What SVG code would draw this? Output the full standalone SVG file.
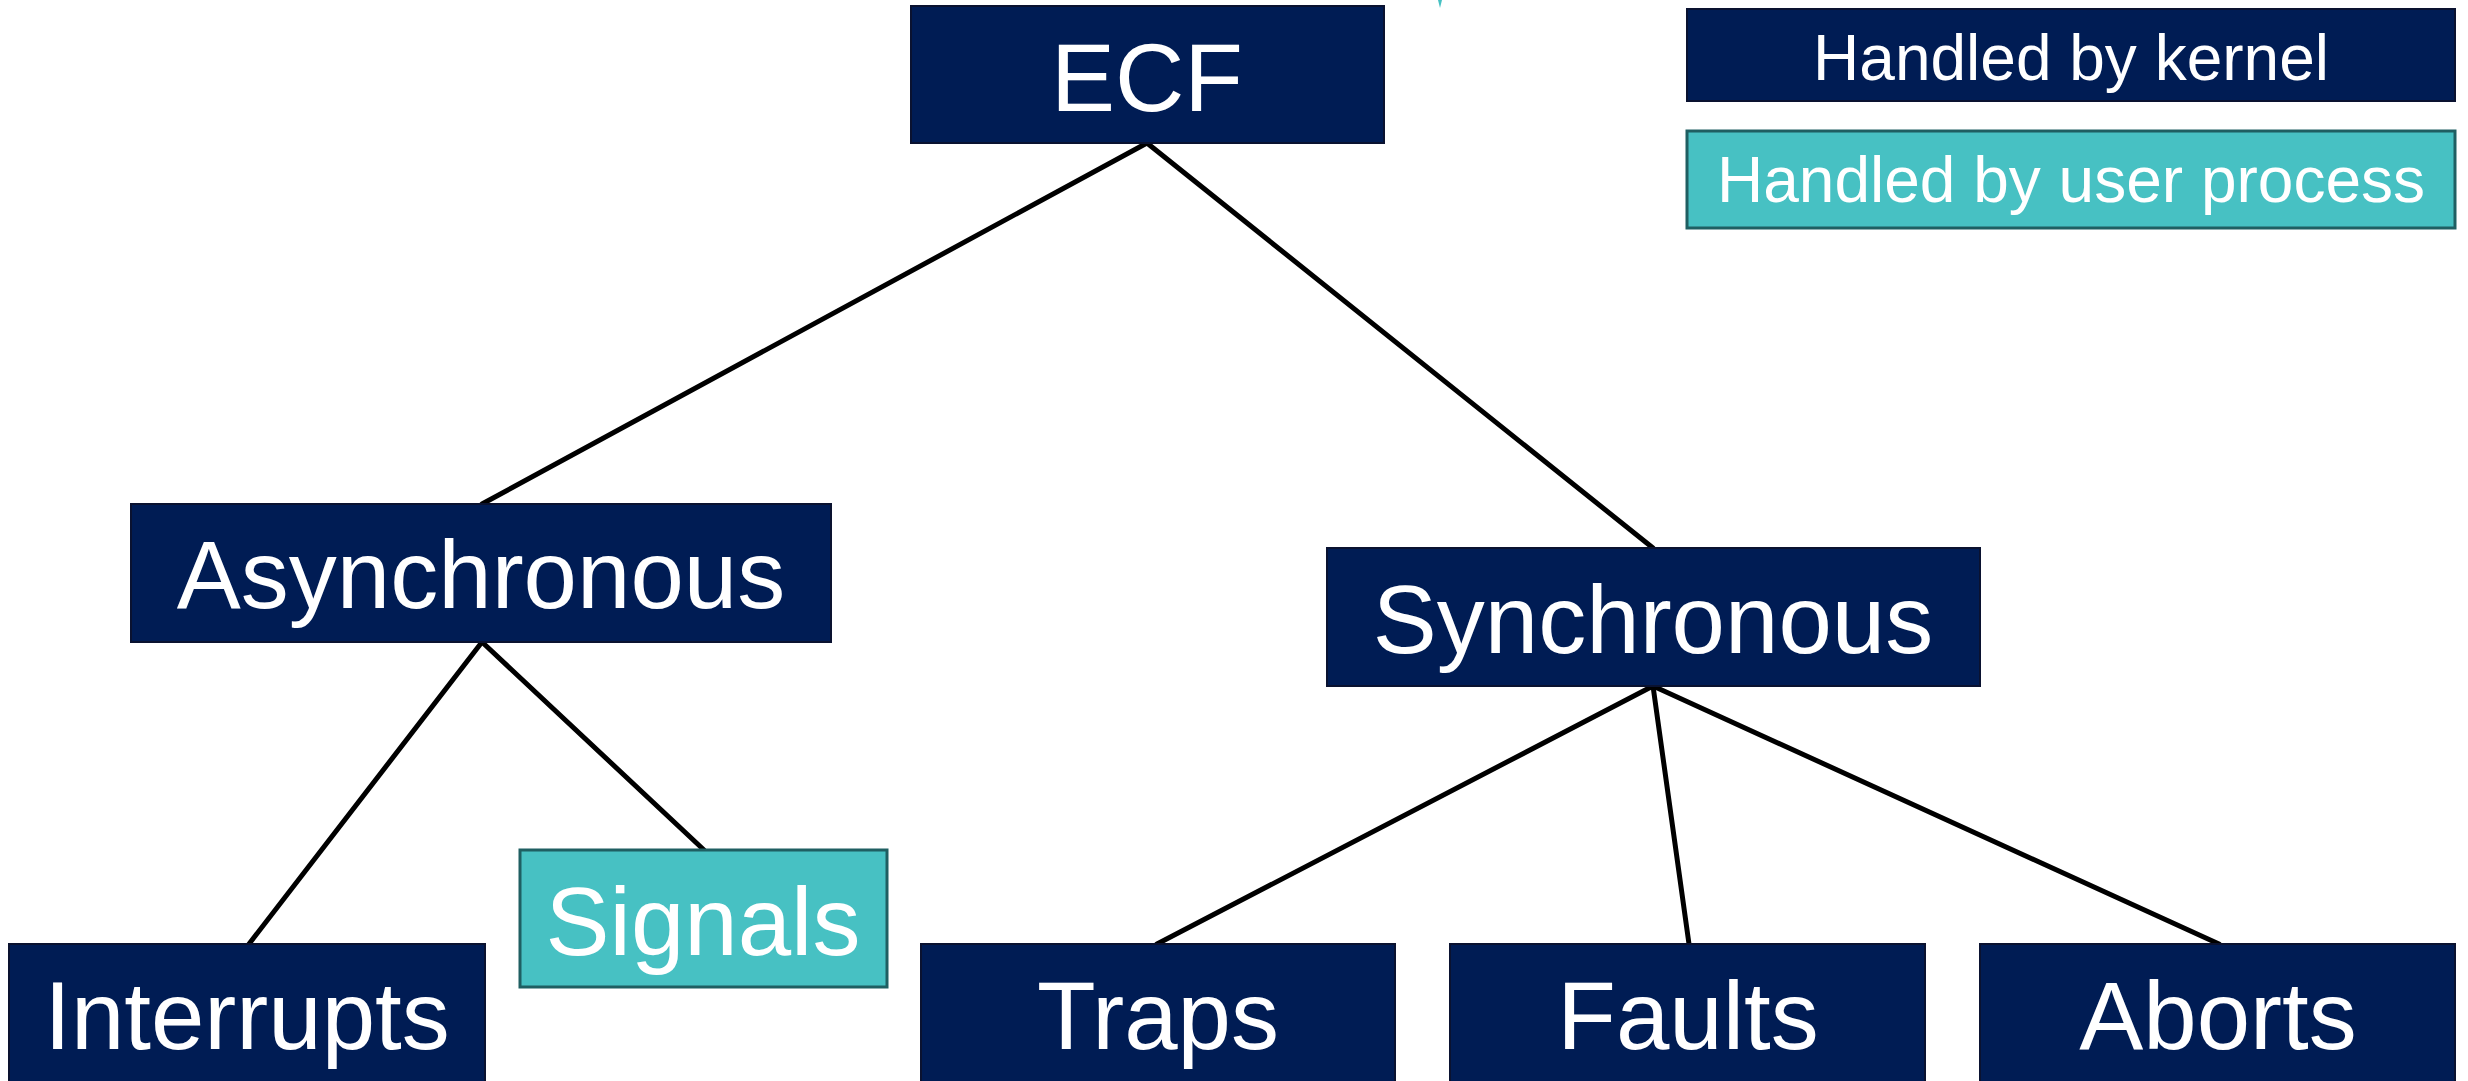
<svg xmlns="http://www.w3.org/2000/svg" width="2468" height="1081" viewBox="0 0 2468 1081">
  <style>
    .kernel { fill: #001c54; stroke: #0a1230; stroke-width: 2; }
    .user { fill: #47c1c3; stroke: #1f5f62; stroke-width: 3; }
    .label { font-family: "Liberation Sans", Arial, sans-serif; fill: #ffffff; text-anchor: middle; }
    .big { font-size: 96px; }
    .legend { font-size: 64px; }
    .edge { stroke: #000000; stroke-width: 5; fill: none; stroke-linecap: round; }
  </style>

  <rect width="2468" height="1081" fill="#ffffff"/>

  <!-- small teal sliver at the top edge -->
  <path d="M1438 0 L1442 0 L1440 8 Z" fill="#47c1c3"/>

  <!-- connectors -->
  <g id="connectors">
    <line class="edge" x1="1147" y1="143" x2="482" y2="504"/>
    <line class="edge" x1="1147" y1="143" x2="1653" y2="548"/>
    <line class="edge" x1="482" y1="642" x2="249" y2="944"/>
    <line class="edge" x1="482" y1="642" x2="704" y2="850"/>
    <line class="edge" x1="1653" y1="686" x2="1157" y2="944"/>
    <line class="edge" x1="1653" y1="686" x2="1689" y2="944"/>
    <line class="edge" x1="1653" y1="686" x2="2219" y2="944"/>
  </g>

  <!-- legend -->
  <g id="legend-kernel">
    <rect class="kernel" x="1687" y="9" width="768" height="92"/>
    <text class="label legend" x="2071" y="80">Handled by kernel</text>
  </g>
  <g id="legend-user">
    <rect class="user" x="1687" y="131" width="768" height="97"/>
    <text class="label legend" x="2071" y="202">Handled by user process</text>
  </g>

  <!-- tree nodes -->
  <g id="ecf">
    <rect class="kernel" x="911" y="6" width="473" height="137"/>
    <text class="label big" x="1147" y="111">ECF</text>
  </g>
  <g id="asynchronous">
    <rect class="kernel" x="131" y="504" width="700" height="138"/>
    <text class="label big" x="481" y="608">Asynchronous</text>
  </g>
  <g id="synchronous">
    <rect class="kernel" x="1327" y="548" width="653" height="138"/>
    <text class="label big" x="1653" y="653">Synchronous</text>
  </g>
  <g id="interrupts">
    <rect class="kernel" x="9" y="944" width="476" height="140"/>
    <text class="label big" x="247" y="1049">Interrupts</text>
  </g>
  <g id="signals">
    <rect class="user" x="520" y="850" width="367" height="137"/>
    <text class="label big" x="703" y="955">Signals</text>
  </g>
  <g id="traps">
    <rect class="kernel" x="921" y="944" width="474" height="140"/>
    <text class="label big" x="1158" y="1049">Traps</text>
  </g>
  <g id="faults">
    <rect class="kernel" x="1450" y="944" width="475" height="140"/>
    <text class="label big" x="1688" y="1049">Faults</text>
  </g>
  <g id="aborts">
    <rect class="kernel" x="1980" y="944" width="475" height="140"/>
    <text class="label big" x="2218" y="1049">Aborts</text>
  </g>
</svg>
